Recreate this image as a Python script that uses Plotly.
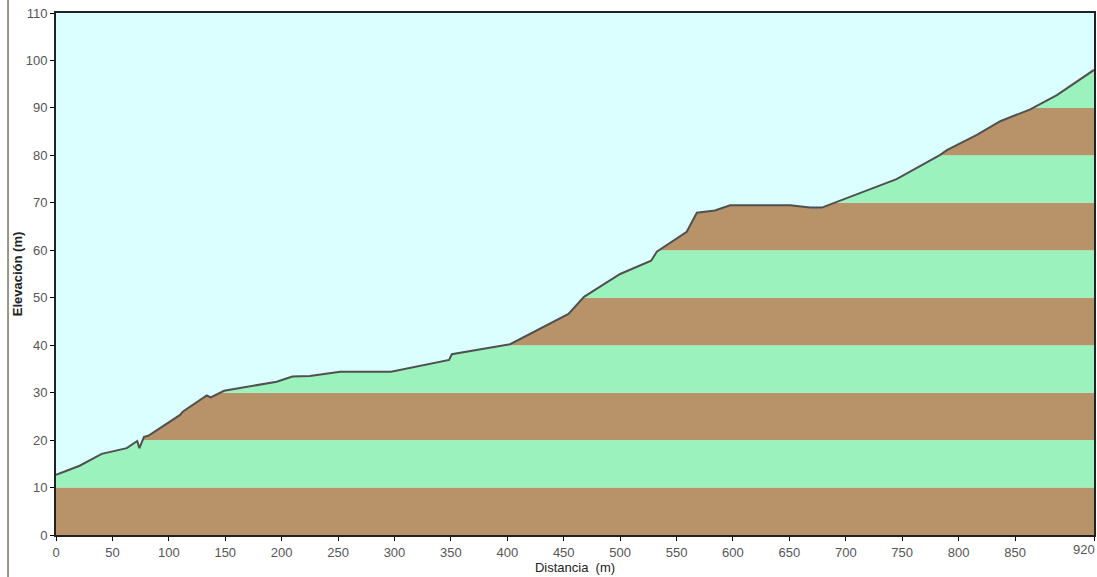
import plotly.graph_objects as go

# Terrain profile (distance in m, elevation in m)
distance = [0, 21, 40.5, 62.7, 72, 73.9, 78, 81.8, 110, 112.3, 133.6, 137.1, 149,
            195.6, 209.5, 225, 251.8, 297, 348.4, 350.8, 402.5, 436.4, 454.2, 468,
            500, 527.5, 532.5, 559, 568, 584, 597.5, 650.7, 668.4, 678.8, 703.9,
            712.8, 745, 783.7, 789.6, 816.2, 836.9, 863.5, 887.1, 920]
elevation = [12.7, 14.6, 17.1, 18.3, 19.8, 18.3, 20.7, 20.9, 25.3, 26.0, 29.4, 29.0, 30.4,
             32.3, 33.4, 33.5, 34.4, 34.4, 36.9, 38.1, 40.2, 44.3, 46.6, 50.2,
             55.0, 57.8, 59.7, 63.9, 67.9, 68.4, 69.5, 69.5, 69.0, 69.0, 71.3,
             72.0, 75.0, 80.1, 81.1, 84.3, 87.2, 89.7, 92.7, 98.0]

band_step = 10
y_max = 110
x_max = 920
band_colors = ["#B89268", "#9BF2BC"]
sky_color = "#DBFEFE"

x_tickvals = list(range(0, 900, 50)) + [920]
x_ticktext = [str(v) for v in range(0, 900, 50)] + [""]
end_label = "920"
y_tickvals = list(range(0, 111, 10))

fig = go.Figure()

# Sky: top boundary
fig.add_trace(go.Scatter(x=[distance[0], distance[-1]], y=[y_max, y_max],
                         mode="lines", line=dict(width=0, color=sky_color),
                         hoverinfo="skip", showlegend=False))
# Terrain line with sky fill above it
fig.add_trace(go.Scatter(x=distance, y=elevation, mode="lines",
                         line=dict(color="#505050", width=2),
                         fill="tonexty", fillcolor=sky_color,
                         showlegend=False))

shapes = []
for k in range(0, y_max // band_step):
    shapes.append(dict(type="rect", xref="x", yref="y", layer="below",
                       x0=0, x1=x_max, y0=k * band_step, y1=(k + 1) * band_step,
                       fillcolor=band_colors[k % 2], line=dict(width=0)))
# left image border line
shapes.append(dict(type="line", xref="paper", yref="paper", x0=-0.0462, x1=-0.0462,
                   y0=-0.09, y1=1.03, line=dict(color="#9A9583", width=2)))

fig.update_layout(
    width=1097, height=577,
    margin=dict(l=56, r=3, t=13, b=42, autoexpand=False),
    paper_bgcolor="white", plot_bgcolor=sky_color,
    font=dict(family="Liberation Sans, Arial, sans-serif", size=13, color="#555555"),
    shapes=shapes,
    annotations=[dict(text=end_label, xref="paper", yref="paper", x=1.0028, y=0,
                      xanchor="right", yanchor="top", yshift=-5, showarrow=False,
                      font=dict(size=13, color="#555555"))],
    xaxis=dict(range=[0, x_max], tickvals=x_tickvals, ticktext=x_ticktext,
               ticks="outside", ticklen=4,
               tickcolor="black", showgrid=False, zeroline=False, automargin=False,
               showline=True, linecolor="#222222", linewidth=2, mirror=True,
               title=dict(text="Distancia  (m)", standoff=0,
                          font=dict(size=13, color="#222222"))),
    yaxis=dict(range=[0, y_max], tickvals=y_tickvals, ticks="outside", ticklen=4,
               tickcolor="black", showgrid=False, zeroline=False, automargin=False,
               showline=True, linecolor="#222222", linewidth=2, mirror=True,
               title=dict(text="<b>Elevación (m)</b>", standoff=0,
                          font=dict(size=13, color="#222222"))),
)

fig.write_html("out.html", config={"displayModeBar": False},
               post_script="document.body.style.margin='0';"
                           "document.body.style.overflow='hidden';")
